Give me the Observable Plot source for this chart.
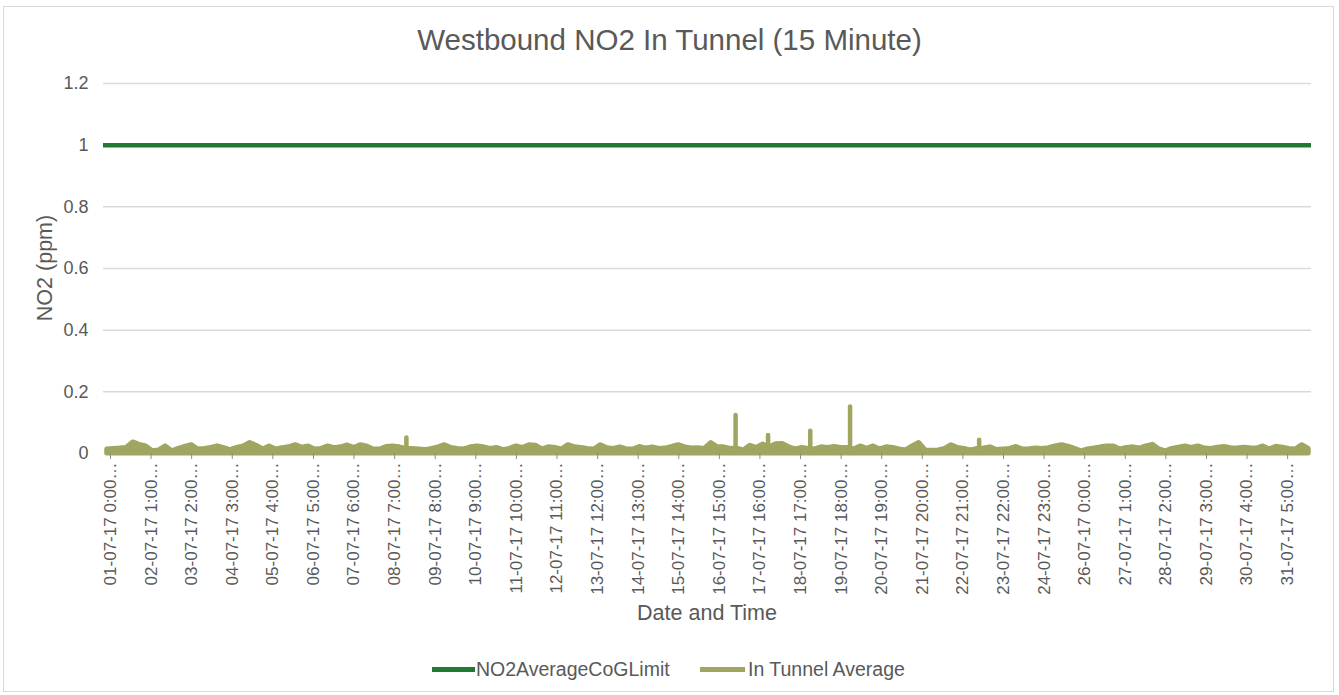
<!DOCTYPE html>
<html><head><meta charset="utf-8">
<script src="https://cdn.jsdelivr.net/npm/d3@7"></script>
<script src="https://cdn.jsdelivr.net/npm/@observablehq/plot@0.6"></script>
<style>
html,body{margin:0;padding:0;background:#fff;}
body{width:1339px;height:695px;position:relative;overflow:hidden;font-family:"Liberation Sans",Arial,sans-serif;color:#595959;}
#frame{position:absolute;left:3px;top:6px;width:1331px;height:686px;border:1px solid #d9d9d9;box-sizing:border-box;}
#title{position:absolute;left:0;width:1339px;top:25px;text-align:center;font-size:29.5px;line-height:30px;}
#chart{position:absolute;left:0;top:60px;}
#chart svg{overflow:visible;}
#ylabel{position:absolute;left:45px;top:268px;transform:translate(-50%,-50%) rotate(-90deg);font-size:21.5px;white-space:nowrap;line-height:24px;}
#xlabel{position:absolute;left:103px;width:1208px;top:600px;text-align:center;font-size:21.5px;line-height:26px;}
.sw{position:absolute;}
.lt{position:absolute;font-size:19.5px;line-height:24px;white-space:nowrap;}
</style>
</head><body>
<div id="frame"></div>
<div id="title">Westbound NO2 In Tunnel (15 Minute)</div>
<div id="chart"></div>
<div id="ylabel">NO2 (ppm)</div>
<div id="xlabel">Date and Time</div>
<div class="sw" style="left:432px;top:667px;width:43px;height:4.5px;background:#217a33"></div>
<div class="lt" style="left:476px;top:657px">NO2AverageCoGLimit</div>
<div class="sw" style="left:700px;top:666.5px;width:45px;height:5px;background:#a0a55f"></div>
<div class="lt" style="left:748px;top:657px">In Tunnel Average</div>
<script>
// ---- data ----
const seriesNames = ["NO2AverageCoGLimit", "In Tunnel Average"];
const limitValues = [1];
const yTicks = [0, 0.2, 0.4, 0.6, 0.8, 1, 1.2];
const tickLabels = ["01-07-17 0:00…","02-07-17 1:00…","03-07-17 2:00…","04-07-17 3:00…","05-07-17 4:00…","06-07-17 5:00…","07-07-17 6:00…","08-07-17 7:00…","09-07-17 8:00…","10-07-17 9:00…","11-07-17 10:00…","12-07-17 11:00…","13-07-17 12:00…","14-07-17 13:00…","15-07-17 14:00…","16-07-17 15:00…","17-07-17 16:00…","18-07-17 17:00…","19-07-17 18:00…","20-07-17 19:00…","21-07-17 20:00…","22-07-17 21:00…","23-07-17 22:00…","24-07-17 23:00…","26-07-17 0:00…","27-07-17 1:00…","28-07-17 2:00…","29-07-17 3:00…","30-07-17 4:00…","31-07-17 5:00…"];
// In Tunnel Average: upper envelope of the 15-minute readings, read every 4 hours
const averageStart = "2017-06-30T22:00";
const averageStepHours = 4;
const averageValues = [
0.013,0.015,0.016,0.018,0.036,0.028,0.023,0.007,0.010,0.023,0.007,0.015,0.021,0.027,0.013,0.015,0.018,0.023,0.017,0.011,0.018,0.023,0.034,0.025,0.013,0.023,0.013,0.017,0.020,0.027,0.019,0.023,0.013,0.015,0.023,0.017,0.020,
0.026,0.018,0.027,0.023,0.013,0.013,0.021,0.023,0.020,0.015,0.015,0.013,0.011,0.015,0.020,0.027,0.018,0.015,0.013,0.020,0.023,0.020,0.015,0.018,0.011,0.015,0.023,0.018,0.027,0.025,0.013,0.020,0.018,0.013,0.027,0.020,0.018,0.015,
0.013,0.027,0.017,0.015,0.020,0.013,0.013,0.021,0.016,0.020,0.015,0.016,0.021,0.027,0.020,0.016,0.017,0.015,0.034,0.020,0.020,0.015,0.016,0.010,0.025,0.018,0.029,0.020,0.030,0.031,0.020,0.013,0.018,0.015,0.013,0.020,0.018,
0.021,0.018,0.018,0.013,0.023,0.015,0.023,0.013,0.020,0.018,0.013,0.010,0.023,0.034,0.010,0.009,0.010,0.015,0.027,0.018,0.015,0.010,0.015,0.016,0.020,0.011,0.013,0.015,0.021,0.013,0.014,0.016,0.015,0.017,0.023,0.027,0.022,0.015,
0.007,0.013,0.016,0.020,0.023,0.023,0.013,0.018,0.020,0.016,0.023,0.028,0.013,0.007,0.015,0.019,0.023,0.018,0.023,0.016,0.015,0.019,0.021,0.017,0.016,0.019,0.017,0.016,0.023,0.013,0.022,0.019,0.015,0.013,0.027,0.015
];
// short single-reading peaks of In Tunnel Average
const peakTimes = ["2017-07-08T14:15","2017-07-17T01:00","2017-07-17T21:00","2017-07-18T23:00","2017-07-19T23:30","2017-07-23T07:00"];
const peakValues = [0.050, 0.123, 0.058, 0.072, 0.151, 0.043];
const xDomain = ["2017-06-30T19:42", "2017-07-31T19:42"];

// ---- build ----
const green = "#217a33", olive = "#a0a55f";
const utc = s => new Date(s + ":00Z");
const t0 = utc(averageStart).getTime();
const average = averageValues.map((v, i) => ({time: new Date(t0 + i * averageStepHours * 3600e3), value: v}));
const peaks = peakTimes.map((t, i) => ({time: utc(t), value: peakValues[i]}));
const tickDates = tickLabels.map(s => {
  const m = s.match(/^(\d\d)-(\d\d)-(\d\d) (\d+):(\d\d)/);
  return new Date(Date.UTC(2000 + +m[3], +m[2] - 1, +m[1], +m[4], +m[5]));
});
const labelMap = new Map(tickDates.map((d, i) => [d.getTime(), tickLabels[i]]));

const chart = Plot.plot({
  width: 1339, height: 540,
  marginLeft: 103, marginRight: 28, marginTop: 23, marginBottom: 147,
  style: {fontFamily: "'Liberation Sans', Arial, sans-serif", fontSize: "18px", color: "#595959", background: "transparent", overflow: "visible"},
  x: {type: "utc", domain: xDomain.map(utc)},
  y: {domain: [0, 1.2]},
  marks: [
    Plot.gridY(yTicks.filter(v => v > 0), {stroke: "#d9d9d9", strokeOpacity: 1, strokeWidth: 1.5}),
    Plot.axisY(yTicks, {tickSize: 0, tickPadding: 15, tickFormat: d => String(d), fontSize: 18, label: null}),
    Plot.areaY(average, {x: "time", y1: 0, y2: "value", fill: olive, stroke: olive, strokeWidth: 5, strokeLinejoin: "round"}),
    Plot.ruleX(peaks, {x: "time", y1: 0, y2: "value", stroke: olive, strokeWidth: 4.5, strokeLinecap: "round"}),
    Plot.ruleY(limitValues, {stroke: green, strokeWidth: 4.5}),
    Plot.axisX(tickDates, {tickRotate: -90, tickFormat: d => labelMap.get(+d), tickSize: 6, tickPadding: 3, stroke: "#8c8c8c", fontSize: 17, label: null})
  ]
});
document.getElementById("chart").appendChild(chart);
</script>
</body></html>
